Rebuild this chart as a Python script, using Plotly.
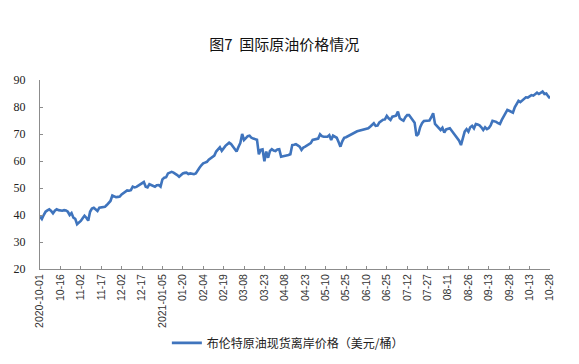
import pandas as pd
import plotly.graph_objects as go

# Trading days (category axis)
holidays = ["2020-12-25", "2021-01-01", "2021-04-02", "2021-05-31", "2021-08-30"]
days = [d for d in pd.bdate_range("2020-10-01", "2021-10-28").strftime("%Y-%m-%d") if d not in holidays]

tick_labels = ["2020-10-01", "10-16", "11-02", "11-17", "12-02", "12-17", "2021-01-05", "01-20",
               "02-04", "02-19", "03-08", "03-23", "04-08", "04-23", "05-10", "05-25", "06-10",
               "06-25", "07-12", "07-27", "08-11", "08-26", "09-13", "09-28", "10-13", "10-28"]

brent = [
    39.4, 38.5, 40.0, 41.2, 41.7, 42.1, 41.5, 40.6, 41.6, 42.1, 41.8,
    41.7, 41.6, 41.8, 41.7, 41.2, 40.0, 40.7, 39.0, 38.6, 36.6, 37.2,
    37.8, 38.8, 39.7, 39.0, 37.9, 41.2, 42.4, 42.7, 42.2, 41.5, 42.7,
    42.8, 42.9, 43.0, 43.7, 44.5, 45.2, 47.2, 47.0, 46.6, 46.7, 46.8,
    47.6, 48.2, 48.8, 49.1, 49.0, 49.2, 50.5, 50.2, 50.4, 50.8, 51.1,
    51.5, 52.2, 50.5, 50.2, 51.4, 51.0, 50.8, 50.5, 51.0, 51.1, 50.5,
    53.2, 53.8, 54.0, 55.4, 55.8, 56.0, 55.7, 55.4, 54.8, 54.2, 54.9,
    55.4, 55.6, 55.7, 55.2, 55.4, 55.3, 55.1, 55.4, 56.7, 57.5, 58.4,
    59.1, 59.4, 59.7, 60.5, 61.0, 61.4, 62.0, 63.5, 64.2, 65.1, 63.8,
    64.8, 65.6, 66.2, 66.8, 66.3, 65.3, 64.2, 63.5, 65.2, 66.6, 70.0,
    67.8, 68.5, 69.2, 69.4, 68.6, 68.3, 68.1, 67.9, 62.5, 64.1, 64.3,
    59.9, 63.5, 61.2, 63.7, 64.4, 63.9, 63.7, 64.3, 64.4, 61.6, 61.7,
    61.8, 62.0, 62.2, 62.5, 65.9, 66.0, 66.2, 65.8, 65.3, 64.1, 65.0,
    65.3, 65.8, 66.3, 66.6, 67.8, 68.0, 68.2, 68.3, 69.9, 69.2, 69.0,
    69.0, 69.0, 69.6, 67.8, 69.4, 69.0, 68.6, 67.0, 65.3, 67.3, 68.6,
    68.8, 69.2, 69.6, 70.0, 70.5, 70.8, 71.0, 71.2, 71.4, 71.6, 71.7,
    72.0, 72.1, 72.7, 73.5, 74.0, 73.0, 73.1, 74.3, 74.9, 75.3, 75.4,
    76.7, 75.8, 75.2, 76.4, 76.7, 76.8, 78.3, 75.8, 75.3, 74.9, 76.2,
    77.0, 77.0, 76.0, 74.9, 74.2, 69.3, 70.0, 72.5, 74.0, 74.8, 74.9,
    74.9, 75.0, 76.2, 77.7, 73.7, 73.0, 72.5, 71.5, 72.3, 70.5, 71.7,
    72.0, 72.1, 71.2, 70.3, 69.5, 68.8, 67.5, 65.9, 69.0, 70.9, 71.8,
    70.9, 72.5, 73.0, 72.1, 73.7, 73.5, 73.2, 72.5, 71.5, 72.5, 71.8,
    72.2, 73.2, 74.9, 74.8, 74.5, 74.0, 73.7, 75.2, 76.5, 77.5, 78.9,
    78.6, 78.3, 77.9, 79.9, 81.2, 82.3, 81.8, 82.3, 82.8, 83.6, 83.5,
    83.8, 84.4, 84.2, 84.6, 85.3, 84.8, 85.2, 85.7, 84.8, 85.0, 84.0,
    83.2,
]

tick_vals = days[::11]

fig = go.Figure()
fig.add_trace(go.Scatter(
    x=days, y=brent, mode="lines",
    name="布伦特原油现货离岸价格（美元/桶）",
    line=dict(color="#3F74BD", width=2.6),
))

fig.update_layout(
    width=579, height=364,
    margin=dict(l=32, r=37, t=72, b=103, autoexpand=False),
    paper_bgcolor="white", plot_bgcolor="white",
    font=dict(family="Noto Sans CJK SC", color="#222222"),
    title=dict(text="图7  国际原油价格情况", x=0.477, xanchor="center", y=0.898, yanchor="middle",
               yref="container", automargin=False,
               font=dict(family="Noto Sans CJK SC", size=15, color="#111111")),
    showlegend=True,
    legend=dict(orientation="h", x=0.486, xanchor="center", y=0.080, yanchor="middle",
                yref="container",
                font=dict(family="Noto Sans CJK SC", size=12, color="#222222"),
                bgcolor="rgba(0,0,0,0)"),
    xaxis=dict(type="category", range=[0, len(days) - 1], automargin=False,
               tickmode="array", tickvals=tick_vals, ticktext=tick_labels,
               tickangle=-90, tickfont=dict(family="Liberation Sans", size=10.5, color="#333333"),
               showgrid=False, zeroline=False, showline=True, linecolor="#8c8c8c", linewidth=1,
               ticks="inside", ticklen=3, tickcolor="#8c8c8c"),
    yaxis=dict(range=[20, 90], tickmode="array", tickvals=[20, 30, 40, 50, 60, 70, 80, 90],
               automargin=False,
               tickfont=dict(family="Liberation Serif", size=12, color="#222222"),
               showgrid=False, zeroline=False, showline=True, linecolor="#8c8c8c", linewidth=1,
               ticks="inside", ticklen=3, tickcolor="#8c8c8c", ticklabelstandoff=11),
)

fig.write_html("out.html")
